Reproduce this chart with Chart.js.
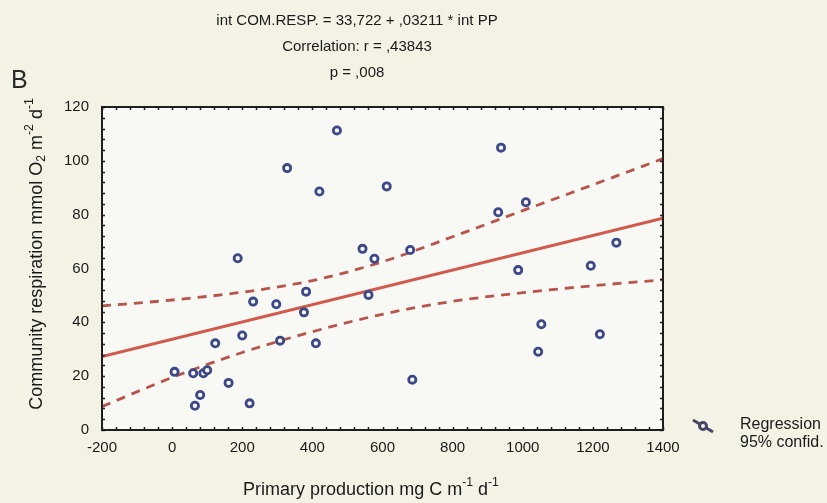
<!DOCTYPE html>
<html>
<head>
<meta charset="utf-8">
<script src="https://cdn.jsdelivr.net/npm/chart.js@4.4.1/dist/chart.umd.min.js"></script>
<style>
	html, body { margin: 0; padding: 0; background: #f4f2e5; }
	#contenedor { width: 827px; height: 503px; }
</style>
</head>
<body>
<div id="contenedor"><canvas id="graficoRespiracion" width="827" height="503"></canvas></div>
<script>
// Datos (producción primaria vs respiración de la comunidad)
const produccionX = [470, 328, 420, 612, 187, 543, 577, 382, 560, 231, 297, 376, 200, 123, 308, 410, 7, 60, 89, 100, 161, 80, 65, 221, 938, 930, 1009, 679, 987, 1194, 1267, 1053, 1044, 1220, 685];
const respiracionY = [111.3, 97.3, 88.6, 90.5, 63.8, 67.3, 63.6, 51.4, 50.2, 47.7, 46.7, 43.7, 35.1, 32.2, 33.2, 32.2, 21.6, 21.1, 21.1, 22.2, 17.5, 13.0, 9.0, 9.9, 104.9, 80.9, 84.6, 66.9, 59.4, 61.0, 69.6, 39.3, 29.1, 35.6, 18.7];

// Recta de regresión (extremos del eje)
const regresionX = [-200, 1400];
const regresionY = [27.3, 78.7];

// Banda de confianza del 95%
const bandaX = [-200, 0, 200, 400, 600, 800, 1000, 1200, 1400];
const bandaSuperior = [46.1, 48.3, 51.2, 55.5, 62.5, 71.8, 81.5, 91.1, 100.8];
const bandaInferior = [8.7, 19.5, 28.8, 36.5, 43.0, 47.8, 51.0, 53.6, 55.8];

// Ticks de los ejes
const ticksX = [-200, 0, 200, 400, 600, 800, 1000, 1200, 1400];
const ticksY = [0, 20, 40, 60, 80, 100, 120];

const titulos = ['int COM.RESP. = 33,722 + ,03211 * int PP', 'Correlation: r = ,43843', 'p = ,008'];

const FUENTE = '"Liberation Sans", Arial, sans-serif';

function aPuntos(xs, ys) {
	return xs.map((x, i) => ({ x: x, y: ys[i] }));
}

// Texto con subíndices y superíndices
function textoCompuesto(ctx, partes, x, y, tam) {
	let ancho = 0;
	partes.forEach(p => {
		ctx.font = (p.s ? tam * 0.68 : tam) + 'px ' + FUENTE;
		ancho += ctx.measureText(p.t).width;
	});
	let cx = x - ancho / 2;
	partes.forEach(p => {
		ctx.font = (p.s ? tam * 0.68 : tam) + 'px ' + FUENTE;
		ctx.fillText(p.t, cx, y + (p.s || 0));
		cx += ctx.measureText(p.t).width;
	});
}

const decorado = {
	id: 'decorado',
	beforeDraw(chart) {
		const ctx = chart.ctx;
		const a = chart.chartArea;
		ctx.save();
		ctx.fillStyle = '#f4f2e5';
		ctx.fillRect(0, 0, chart.width, chart.height);
		ctx.fillStyle = '#f8f8f4';
		ctx.fillRect(a.left, a.top, a.right - a.left, a.bottom - a.top);
		ctx.restore();
	},
	afterDraw(chart) {
		const ctx = chart.ctx;
		const a = chart.chartArea;
		const sx = chart.scales.x;
		const sy = chart.scales.y;
		ctx.save();
		// marco y marcas menores hacia dentro
		ctx.strokeStyle = '#1e1e1e';
		ctx.lineWidth = 2;
		ctx.strokeRect(a.left, a.top, a.right - a.left, a.bottom - a.top);
		ctx.lineWidth = 1.5;
		ctx.beginPath();
		for (let v = sx.min; v <= sx.max; v += 40) {
			const px = Math.round(sx.getPixelForValue(v)) + 0.5;
			ctx.moveTo(px, a.top); ctx.lineTo(px, a.top + 3);
			ctx.moveTo(px, a.bottom); ctx.lineTo(px, a.bottom - 3);
		}
		for (let v = sy.min; v <= sy.max; v += 4) {
			const py = Math.round(sy.getPixelForValue(v)) + 0.5;
			ctx.moveTo(a.left, py); ctx.lineTo(a.left + 3, py);
			ctx.moveTo(a.right, py); ctx.lineTo(a.right - 3, py);
		}
		ctx.stroke();

		// títulos superiores
		ctx.fillStyle = '#1a1a1a';
		ctx.textAlign = 'center';
		ctx.textBaseline = 'middle';
		ctx.font = '15px ' + FUENTE;
		titulos.forEach((t, i) => ctx.fillText(t, 357, 21 + i * 26));

		// letra del panel
		ctx.textAlign = 'left';
		ctx.font = '25px ' + FUENTE;
		ctx.fillStyle = '#2a2a2a';
		ctx.fillText('B', 11, 81);

		// título eje X
		ctx.fillStyle = '#1a1a1a';
		textoCompuesto(ctx, [
			{ t: 'Primary production mg C m' }, { t: '-1', s: -7 }, { t: ' d' }, { t: '-1', s: -7 }
		], 371, 490, 18);

		// título eje Y (rotado)
		ctx.save();
		ctx.translate(37, 254);
		ctx.rotate(-Math.PI / 2);
		textoCompuesto(ctx, [
			{ t: 'Community respiration mmol O' }, { t: '2', s: 5 }, { t: ' m' }, { t: '-2', s: -7 },
			{ t: ' d' }, { t: '-1', s: -7 }
		], 0, 0, 18);
		ctx.restore();

		// leyenda
		ctx.strokeStyle = '#4a4468';
		ctx.lineWidth = 3;
		ctx.beginPath();
		ctx.moveTo(693, 420); ctx.lineTo(713, 432);
		ctx.stroke();
		ctx.beginPath();
		ctx.arc(703, 426, 3.5, 0, Math.PI * 2);
		ctx.fillStyle = '#f4f2e5';
		ctx.fill();
		ctx.stroke();
		ctx.fillStyle = '#1a1a1a';
		ctx.textAlign = 'left';
		ctx.font = '16px ' + FUENTE;
		ctx.fillText('Regression', 740, 425);
		ctx.fillText('95% confid.', 740, 443);
		ctx.restore();
	}
};

const ctx = document.getElementById('graficoRespiracion').getContext('2d');
const graficoRespiracion = new Chart(ctx, {
	type: 'scatter',
	data: {
		datasets: [
			{
				label: 'Datos',
				data: aPuntos(produccionX, respiracionY),
				pointRadius: 3.6,
				borderWidth: 2.8,
				borderColor: '#3c4887',
				backgroundColor: '#f8f8f4',
			},
			{
				label: 'Regression',
				data: aPuntos(regresionX, regresionY),
				showLine: true,
				pointRadius: 0,
				borderColor: '#d25a4c',
				borderWidth: 3,
			},
			{
				label: '95% sup',
				data: aPuntos(bandaX, bandaSuperior),
				showLine: true,
				pointRadius: 0,
				borderColor: '#b9544b',
				borderWidth: 2.8,
				borderDash: [9, 7],
				cubicInterpolationMode: 'monotone',
			},
			{
				label: '95% inf',
				data: aPuntos(bandaX, bandaInferior),
				showLine: true,
				pointRadius: 0,
				borderColor: '#b9544b',
				borderWidth: 2.8,
				borderDash: [9, 7],
				cubicInterpolationMode: 'monotone',
			},
		],
	},
	options: {
		responsive: false,
		animation: false,
		events: [],
		layout: { padding: { left: 0, top: 107, right: 164, bottom: 0 } },
		plugins: { legend: { display: false }, tooltip: { enabled: false }, title: { display: false } },
		scales: {
			x: {
				type: 'linear',
				min: ticksX[0],
				max: ticksX[ticksX.length - 1],
				afterBuildTicks: (s) => { s.ticks = ticksX.map(v => ({ value: v })); },
				afterFit: (s) => { s.height = 73; },
				grid: { display: false, drawTicks: false },
				border: { display: false },
				ticks: { padding: 9, color: '#1a1a1a', font: { family: FUENTE, size: 15 }, maxRotation: 0, callback: (v) => String(v) },
			},
			y: {
				type: 'linear',
				min: ticksY[0],
				max: ticksY[ticksY.length - 1],
				afterBuildTicks: (s) => { s.ticks = ticksY.map(v => ({ value: v })); },
				afterFit: (s) => { s.width = 102; },
				grid: { display: false, drawTicks: false },
				border: { display: false },
				ticks: { padding: 13, color: '#1a1a1a', font: { family: FUENTE, size: 15 }, callback: (v) => String(v) },
			},
		},
	},
	plugins: [decorado],
});
</script>
</body>
</html>
